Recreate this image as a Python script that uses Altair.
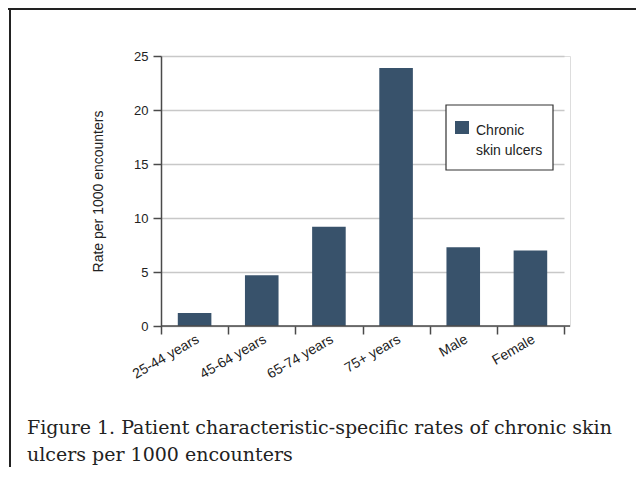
import altair as alt
import pandas as pd

categories = ["25-44 years", "45-64 years", "65-74 years", "75+ years", "Male", "Female"]
rates = [1.2, 4.7, 9.2, 23.9, 7.3, 7.0]
y_ticks = [0, 5, 10, 15, 20, 25]
series_name = "Chronic skin ulcers"
legend_lines = ["Chronic", "skin ulcers"]
caption_lines = [
    "Figure 1. Patient characteristic-specific rates of chronic skin",
    "ulcers per 1000 encounters",
]

BAR = "#38526b"
AXIS = "#4a4a4a"
SANS = "Liberation Sans, Arial, sans-serif"
SERIF = "DejaVu Serif, serif"

W, H = 409, 270

df = pd.DataFrame({"category": categories, "rate": rates, "series": series_name})

x_enc = alt.X(
    "category:N",
    sort=categories,
    scale=alt.Scale(range=[0, 403], paddingInner=0, paddingOuter=0),
    axis=alt.Axis(
        title=None,
        domain=False,
        tickBand="extent",
        tickSize=8,
        tickColor=AXIS,
        tickWidth=1.5,
        labelAngle=-30,
        labelAlign="right",
        labelBaseline="middle",
        labelPadding=4,
        labelOffset=3,
        labelFont=SANS,
        labelFontSize=14,
        labelColor="#222",
    ),
)
y_enc = alt.Y(
    "rate:Q",
    scale=alt.Scale(domain=[0, 25], nice=False),
    axis=alt.Axis(
        title="Rate per 1000 encounters",
        values=y_ticks,
        grid=True,
        gridColor="#c8c8c8",
        gridWidth=1.5,
        domainColor=AXIS,
        domainWidth=1.5,
        tickSize=8,
        tickColor=AXIS,
        tickWidth=1.5,
        labelPadding=5,
        labelFont=SANS,
        labelFontSize=13,
        labelColor="#222",
        titleFont=SANS,
        titleFontSize=14,
        titleFontWeight="normal",
        titleColor="#222",
        titlePadding=28,
    ),
)

bars = alt.Chart(df).mark_bar(color=BAR, width={"band": 0.5}).encode(x=x_enc, y=y_enc)

one = pd.DataFrame({"k": [0]})
base1 = alt.Chart(one)

x_domain = base1.mark_rule(color=AXIS, strokeWidth=1.5).encode(
    x=alt.value(0), x2=alt.value(W), y=alt.value(H)
)

leg_box = base1.mark_rect(fill="white", stroke="#333", strokeWidth=1.2).encode(
    x=alt.value(285), x2=alt.value(392), y=alt.value(49), y2=alt.value(114)
)
leg_sw = base1.mark_rect(fill=BAR).encode(
    x=alt.value(294), x2=alt.value(308), y=alt.value(65), y2=alt.value(78)
)
leg_t1 = base1.mark_text(align="left", baseline="alphabetic", font=SANS, fontSize=14, color="#222", text=legend_lines[0]).encode(
    x=alt.value(315), y=alt.value(79)
)
leg_t2 = base1.mark_text(align="left", baseline="alphabetic", font=SANS, fontSize=14, color="#222", text=legend_lines[1]).encode(
    x=alt.value(315), y=alt.value(99)
)

cap1 = base1.mark_text(align="left", baseline="alphabetic", font=SERIF, fontSize=19, color="#222", text=caption_lines[0]).encode(
    x=alt.value(-134), y=alt.value(378)
)
cap2 = base1.mark_text(align="left", baseline="alphabetic", font=SERIF, fontSize=19, color="#222", text=caption_lines[1]).encode(
    x=alt.value(-134), y=alt.value(405)
)

border_top = base1.mark_rule(color="#222", strokeWidth=2).encode(
    x=alt.value(-153), x2=alt.value(480), y=alt.value(-47)
)
border_left = base1.mark_rule(color="#222", strokeWidth=2).encode(
    x=alt.value(-151), y=alt.value(-48), y2=alt.value(420)
)

chart = alt.layer(
    bars, x_domain, leg_box, leg_sw, leg_t1, leg_t2, cap1, cap2, border_top, border_left
).properties(
    width=W,
    height=H,
    autosize=alt.AutoSizeParams(type="none"),
    padding={"left": 153, "top": 48, "right": 66, "bottom": 141},
).configure_view(stroke=None).configure(background="white")

chart.save("out.html", embed_options={"renderer": "svg", "actions": False})
